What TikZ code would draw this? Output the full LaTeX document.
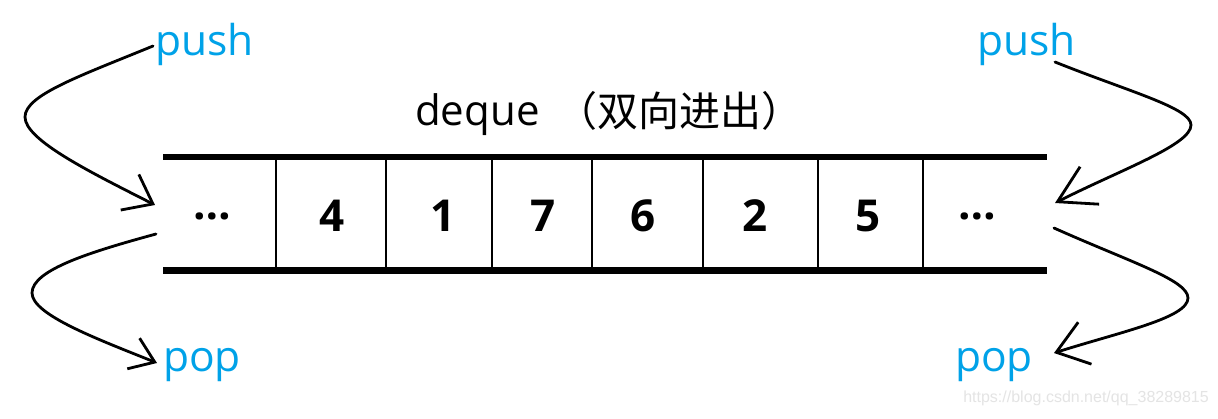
\documentclass[tikz,border=0pt]{standalone}
\usepackage{fontspec}
\setmainfont{Open Sans}
\newfontfamily\cjkfont{Noto Sans CJK SC}
\newfontfamily\wmfont{Liberation Sans}
\usetikzlibrary{arrows.meta}
\definecolor{paintblue}{HTML}{00A2E8}
\definecolor{wmgray}{HTML}{E4E4E4}
\begin{document}
\begin{tikzpicture}[x=1pt,y=-1pt,
  lbl/.style={text=paintblue, font=\fontsize{42.5}{50}\selectfont, inner sep=0pt, anchor=base west},
  num/.style={font=\bfseries\fontsize{44}{52}\selectfont, inner sep=0pt},
  bar/.style={line width=6.5pt},
  divider/.style={line width=2pt},
  curve/.style={line width=2.8pt, line cap=round, line join=round},
]
\useasboundingbox[fill=white] (0,0) rectangle (1218,418);

% deque rails and cell dividers
\draw[bar] (163,157) -- (1047,157);
\draw[bar] (163,270.5) -- (1047,270.5);
\foreach \x in {276,386,492,592,703,818,923}
  \draw[divider] (\x,157) -- (\x,270);

% cell contents
\node[num] (c0) at (212,216) {…};
\node[num] (c1) at (332,216) {4};
\node[num] (c2) at (443,216) {1};
\node[num] (c3) at (543,216) {7};
\node[num] (c4) at (643,216) {6};
\node[num] (c5) at (755,216) {2};
\node[num] (c6) at (868,216) {5};
\node[num] (c7) at (977,216) {…};

% title
\node[inner sep=0pt, anchor=base west, font=\fontsize{42}{50}\selectfont] (title) at (415,125) {deque};
\node[inner sep=0pt, anchor=base west, font=\cjkfont\fontsize{41}{49}\selectfont] (titlezh) at (556,126) {（双向进出）};

% labels
\node[lbl] (lpush) at (155,55) {push};
\node[lbl] (lpop)  at (163,371) {pop};
\node[lbl] (rpush) at (977,55) {push};
\node[lbl] (rpop)  at (955,371) {pop};

% arrow end points at the deque ends
\coordinate (lpushS) at (153,46);
\coordinate (lpushE) at (155,205);
\coordinate (lpopS)  at (156,234);
\coordinate (lpopE)  at (157,363);
\coordinate (rpushS) at (1055,62);
\coordinate (rpushE) at (1055,203);
\coordinate (rpopS)  at (1054,228);
\coordinate (rpopE)  at (1054,353);

\draw[curve, -{Straight Barb[length=26pt,width=40pt]}]
  (lpushS) .. controls (80,76) and (25,95) .. (25,117)
           .. controls (25,140) and (90,172) .. (lpushE);
\draw[curve, -{Straight Barb[length=23pt,width=33pt]}]
  (lpopS) .. controls (90,252) and (32,270) .. (32,293)
          .. controls (32,315) and (100,340) .. (lpopE);
\draw[curve, -{Straight Barb[length=36pt,width=42pt]}]
  (rpushS) .. controls (1130,92) and (1191,108) .. (1191,125)
           .. controls (1191,145) and (1120,170) .. (rpushE);
\draw[curve, -{Straight Barb[length=30pt,width=44pt]}]
  (rpopS) .. controls (1130,262) and (1188,280) .. (1188,298)
          .. controls (1188,318) and (1120,332) .. (rpopE);

% watermark
\node[anchor=east, text=wmgray, font=\wmfont\fontsize{16}{18}\selectfont, inner sep=0pt] (wm) at (1209,398) {https://blog.csdn.net/qq\_38289815};
\end{tikzpicture}
\end{document}
